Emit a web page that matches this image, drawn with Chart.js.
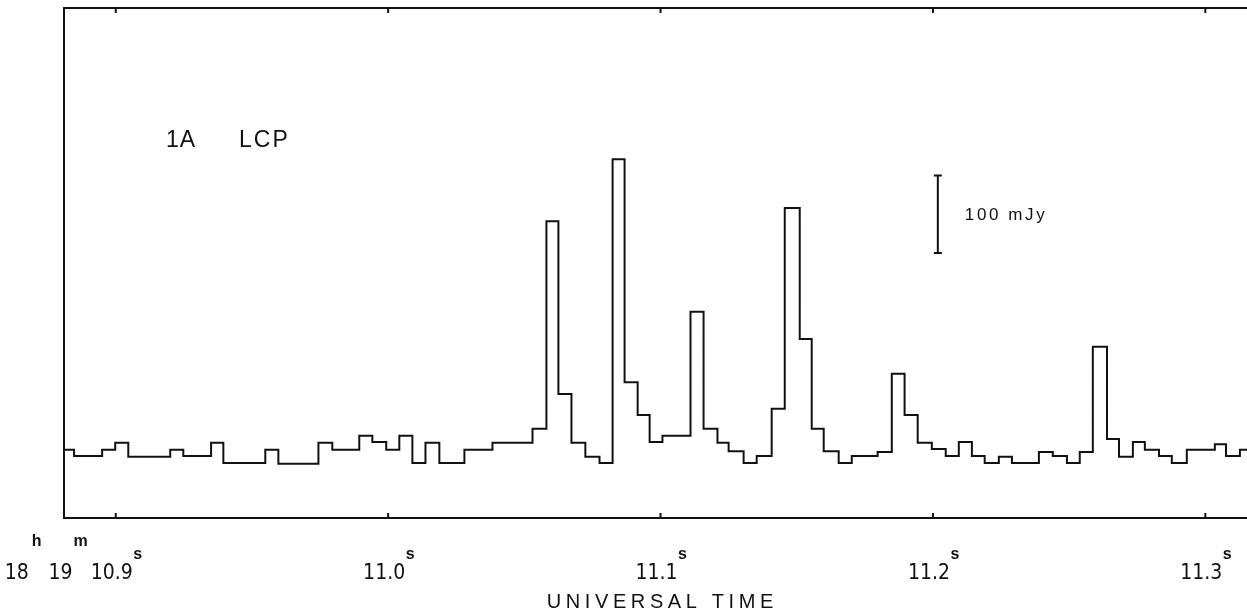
<!DOCTYPE html>
<html><head><meta charset="utf-8">
<script src="https://cdn.jsdelivr.net/npm/chart.js@4/dist/chart.umd.min.js"></script>
<style>html,body{margin:0;padding:0;background:#fff;overflow:hidden}#wrap{position:relative;width:1247px;height:611px}</style>
</head><body><div id="wrap"><canvas id="c" width="1247" height="611"></canvas></div>
<script>
// Bin start times (seconds past 18h 19m)
const binStart = [
 10.8810,10.8847,10.8950,10.8998,10.9046,10.9200,10.9248,10.9350,10.9395,10.9549,
 10.9597,10.9744,10.9795,10.9894,10.9942,10.9993,11.0041,11.0089,11.0137,11.0188,
 11.0280,11.0383,11.0530,11.0581,11.0625,11.0673,11.0724,11.0776,11.0824,11.0868,
 11.0916,11.0960,11.1007,11.1110,11.1158,11.1209,11.1250,11.1305,11.1353,11.1408,
 11.1456,11.1511,11.1555,11.1599,11.1654,11.1702,11.1797,11.1849,11.1896,11.1944,
 11.1996,11.2047,11.2095,11.2143,11.2190,11.2242,11.2290,11.2389,11.2440,11.2492,
 11.2539,11.2587,11.2639,11.2683,11.2734,11.2778,11.2830,11.2877,11.2932,11.3035,
 11.3076,11.3127];
const binEnd = 11.3153;
// Flux density (mJy, arbitrary zero) for each bin
const fluxMJy = [
 88,80,88,97,79,88,80,97,71,88,
 70,97,88,106,98,88,106,71,97,71,
 88,97,115,383,160,97,79,71,463,175,
 133,98,106,266,115,97,86,71,80,141,
 400,231,115,86,71,80,85,186,133,97,
 89,80,98,80,71,79,71,85,80,71,
 85,221,102,79,98,88,80,71,88,95,
 80,88];
const tickValues = [10.9, 11.0, 11.1, 11.2, 11.3];
const tickLabels = ['10.9', '11.0', '11.1', '11.2', '11.3'];
const xRange = [10.8810, 11.3153];
const yRange = [0, 658];
const scaleBar = {t: 11.2018, lo: 342, hi: 442, label: '100 mJy'};
const panelLabel = ['1A', 'LCP'];
const axisTitle = 'UNIVERSAL TIME';

const INK = '#111';
const NUMFONT = '"Liberation Sans Narrow", "DejaVu Sans Condensed", "Liberation Sans", sans-serif';
const FONT = '"Liberation Sans", "DejaVu Sans", sans-serif';

function drawSpaced(ctx, text, x, y, spacing, align) {
  const ws = [...text].map(ch => ctx.measureText(ch).width);
  const total = ws.reduce((a, b) => a + b, 0) + spacing * (text.length - 1);
  let cx = align === 'center' ? x - total / 2 : (align === 'right' ? x - total : x);
  ctx.textAlign = 'left';
  [...text].forEach((ch, i) => { ctx.fillText(ch, cx, y); cx += ws[i] + spacing; });
  return total;
}

const points = binStart.map((t, i) => ({x: t, y: fluxMJy[i]}));
points.push({x: binEnd, y: fluxMJy[fluxMJy.length - 1]});

const framePlugin = {
  id: 'frame',
  afterDraw(chart) {
    const ctx = chart.ctx;
    const {left, right, top, bottom} = chart.chartArea;
    const xs = chart.scales.x, ys = chart.scales.y;
    ctx.save();
    ctx.strokeStyle = INK; ctx.fillStyle = INK; ctx.lineWidth = 2;
    ctx.beginPath();
    ctx.moveTo(right + 2, top); ctx.lineTo(left, top); ctx.lineTo(left, bottom); ctx.lineTo(right + 2, bottom);
    ctx.stroke();
    ctx.textBaseline = 'alphabetic';
    tickValues.forEach((v, i) => {
      const px = xs.getPixelForValue(v);
      ctx.beginPath();
      ctx.moveTo(px, top); ctx.lineTo(px, top + 5);
      ctx.moveTo(px, bottom); ctx.lineTo(px, bottom - 5);
      ctx.stroke();
      ctx.font = '21px ' + NUMFONT;
      const w = drawSpaced(ctx, tickLabels[i], px - 4, 579, 0, 'center');
      ctx.font = 'bold 16px ' + FONT;
      ctx.fillText('s', px - 4 + w / 2 + 0.5, 559);
      if (i === 0) {
        let cx = px - 4 - w / 2 - 3;
        ctx.font = 'bold 16px ' + FONT;
        cx -= drawSpaced(ctx, 'm', cx, 546, 0, 'right') + 1;
        ctx.font = '21px ' + NUMFONT;
        cx -= drawSpaced(ctx, '19', cx, 579, 0, 'right') + 7;
        ctx.font = 'bold 16px ' + FONT;
        cx -= drawSpaced(ctx, 'h', cx, 546, 0, 'right') + 3;
        ctx.font = '21px ' + NUMFONT;
        drawSpaced(ctx, '18', cx, 579, 0, 'right');
      }
    });
    ctx.font = '20px ' + FONT;
    drawSpaced(ctx, axisTitle, 660, 608, 4.6, 'center');
    ctx.font = '23px ' + FONT;
    drawSpaced(ctx, panelLabel[0], 166, 147, 1, 'left');
    drawSpaced(ctx, panelLabel[1], 239, 147, 2, 'left');
    const bx = xs.getPixelForValue(scaleBar.t);
    const y1 = ys.getPixelForValue(scaleBar.lo), y2 = ys.getPixelForValue(scaleBar.hi);
    ctx.beginPath();
    ctx.moveTo(bx, y1); ctx.lineTo(bx, y2);
    ctx.moveTo(bx - 4, y1); ctx.lineTo(bx + 4, y1);
    ctx.moveTo(bx - 4, y2); ctx.lineTo(bx + 4, y2);
    ctx.stroke();
    ctx.font = '17px ' + FONT;
    drawSpaced(ctx, scaleBar.label, bx + 27, (y1 + y2) / 2 + 6, 2.6, 'left');
    ctx.restore();
  }
};

new Chart(document.getElementById('c').getContext('2d'), {
  type: 'line',
  data: {datasets: [{
    data: points, stepped: 'before', borderColor: INK, borderWidth: 2,
    pointRadius: 0, fill: false, borderJoinStyle: 'miter', borderCapStyle: 'butt', tension: 0
  }]},
  options: {
    responsive: false, animation: false, events: [],
    layout: {padding: {left: 64, top: 8, right: 0, bottom: 93}},
    plugins: {legend: {display: false}, tooltip: {enabled: false}},
    scales: {
      x: {type: 'linear', display: false, min: xRange[0], max: xRange[1],
          afterBuildTicks: s => { s.ticks = tickValues.map(v => ({value: v})); }},
      y: {type: 'linear', display: false, min: yRange[0], max: yRange[1]}
    }
  },
  plugins: [framePlugin]
});
</script>
</body></html>
